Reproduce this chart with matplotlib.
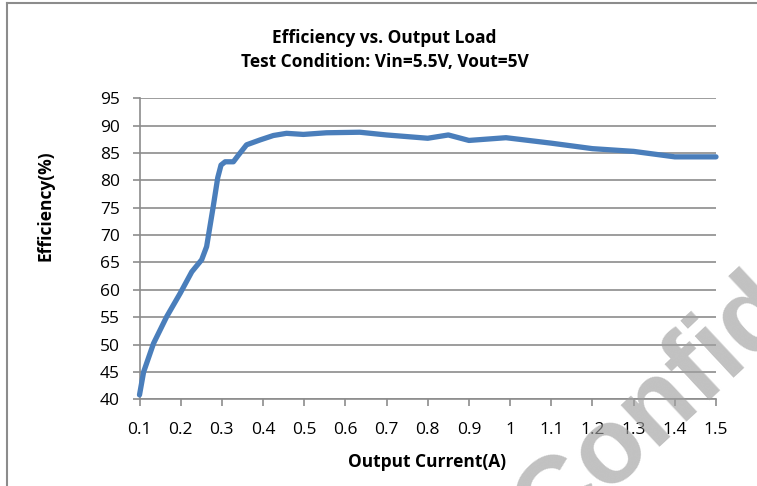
import matplotlib
matplotlib.use("Agg")
import matplotlib.pyplot as plt
from matplotlib.lines import Line2D

plt.rcParams['font.family'] = ['Open Sans', 'DejaVu Sans']

# Data
current_a = [0.10, 0.11, 0.134, 0.166, 0.199, 0.227, 0.251, 0.263, 0.279, 0.290, 0.298,
             0.308, 0.328, 0.340, 0.360, 0.393, 0.425, 0.457, 0.498, 0.554, 0.635,
             0.70, 0.80, 0.85, 0.90, 0.99, 1.10, 1.20, 1.30, 1.40, 1.50]
efficiency = [40.8, 45.0, 50.2, 55.1, 59.4, 63.3, 65.5, 67.9, 75.2, 80.5, 82.8,
              83.4, 83.4, 84.6, 86.5, 87.4, 88.2, 88.6, 88.4, 88.7, 88.8,
              88.3, 87.7, 88.3, 87.3, 87.8, 86.8, 85.8, 85.3, 84.3, 84.3]
x_ticks = [0.1, 0.2, 0.3, 0.4, 0.5, 0.6, 0.7, 0.8, 0.9, 1.0, 1.1, 1.2, 1.3, 1.4, 1.5]
x_tick_labels = ['0.1', '0.2', '0.3', '0.4', '0.5', '0.6', '0.7', '0.8', '0.9', '1',
                 '1.1', '1.2', '1.3', '1.4', '1.5']
y_ticks = [40, 45, 50, 55, 60, 65, 70, 75, 80, 85, 90, 95]

W, H = 757, 486
fig = plt.figure(figsize=(W / 100, H / 100), dpi=100)
ax = fig.add_axes([139.5 / W, 1 - 399.3 / H, (716 - 139.5) / W, (399.3 - 98.3) / H])

grid_c = '#8c8c8c'
ax.plot(current_a, efficiency, color='#4A7EBB', lw=3.8, solid_joinstyle='round',
        solid_capstyle='round', zorder=3, clip_on=False)

ax.set_xlim(0.1, 1.5)
ax.set_ylim(40, 95)
ax.set_xticks(x_ticks)
ax.set_xticklabels(x_tick_labels)
ax.set_yticks(y_ticks)
ax.yaxis.grid(True, color=grid_c, lw=1.2)
ax.set_axisbelow(True)
for s in ['top', 'right']:
    ax.spines[s].set_visible(False)
for s in ['left', 'bottom']:
    ax.spines[s].set_color(grid_c)
    ax.spines[s].set_linewidth(1.2)
ax.tick_params(axis='x', direction='out', length=5, color=grid_c, width=1.2,
               labelsize=12.5, pad=11, labelcolor='black')
ax.tick_params(axis='y', direction='out', length=5, color=grid_c, width=1.2,
               labelsize=12.5, pad=9, labelcolor='black')

fig.text(427 / W, 1 - 462 / H, 'Output Current(A)', ha='center', va='center',
         fontsize=12.5, fontweight='bold')
fig.text(45 / W, 1 - 206 / H, 'Efficiency(%)', ha='center', va='center',
         fontsize=12.5, fontweight='bold', rotation=90)

fig.text(384 / W, 1 - 38 / H, 'Efficiency vs. Output Load', ha='center', va='center',
         fontsize=12.5, fontweight='bold')
fig.text(385 / W, 1 - 62 / H, 'Test Condition: Vin=5.5V, Vout=5V', ha='center', va='center',
         fontsize=12.5, fontweight='bold')

# Page border fragments
fig.add_artist(Line2D([7 / W, 1], [1 - 3.5 / H, 1 - 3.5 / H], color='#8c8c8c', lw=1.5,
                      transform=fig.transFigure))
fig.add_artist(Line2D([7 / W, 7 / W], [0, 1 - 3.5 / H], color='#8c8c8c', lw=1.5,
                      transform=fig.transFigure))

# Watermark
fig.text(550 / W, 1 - 545 / H, 'Confidential', rotation=43, ha='left', va='baseline',
         fontsize=77, fontweight='bold', color='#a0a0a0', alpha=0.65, zorder=10,
         rotation_mode='anchor', family=['Liberation Sans', 'DejaVu Sans'])

fig.savefig('out.png', dpi=100)
